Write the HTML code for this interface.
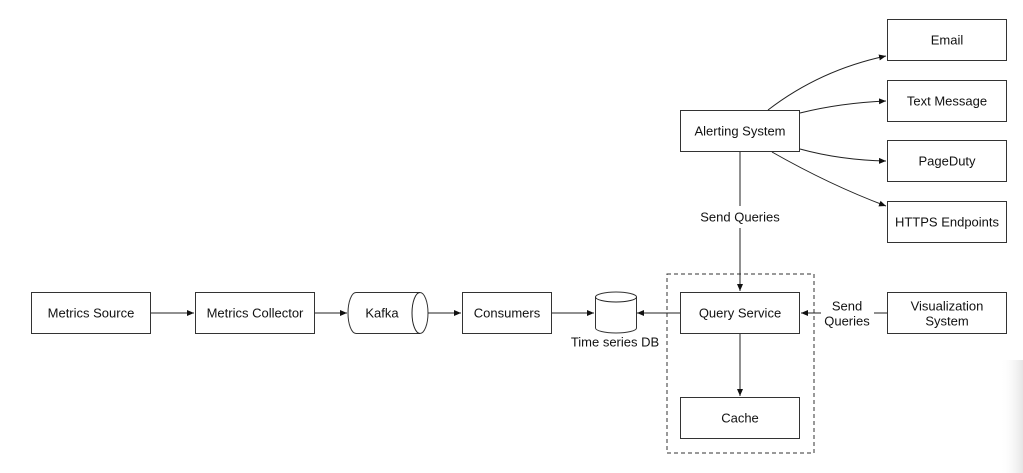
<!DOCTYPE html>
<html><head><meta charset="utf-8"><style>
html,body{margin:0;padding:0;background:#fff;}
svg{display:block;font-family:"Liberation Sans",Arial,sans-serif;}
text{font-size:13px;fill:#111;text-anchor:middle;dominant-baseline:central;}
.b{fill:#fff;stroke:#333;stroke-width:1;}
.l{fill:none;stroke:#222;stroke-width:1;}
</style></head><body>
<svg width="1023" height="473" viewBox="0 0 1023 473">
<defs><marker id="a" markerWidth="8" markerHeight="8" refX="7" refY="4" orient="auto" markerUnits="userSpaceOnUse"><path d="M0,1 L7,4 L0,7 Z" fill="#111"/></marker></defs>
<!-- right edge shading -->
<defs><linearGradient id="g" x1="0" x2="1"><stop offset="0" stop-color="#fff" stop-opacity="0"/><stop offset="1" stop-color="#e6e6e6"/></linearGradient></defs>
<rect x="1000" y="360" width="23" height="113" fill="url(#g)"/>

<rect class="b" x="31.5" y="292.5" width="119" height="41"/><text x="91" y="313">Metrics Source</text>
<rect class="b" x="195.5" y="292.5" width="119" height="41"/><text x="255" y="313">Metrics Collector</text>
<path class="b" d="M356,292.5 H420 A8,20.5 0 0 1 420,333.5 H356 A8,20.5 0 0 1 356,292.5 Z"/>
<path class="l" d="M420,292.5 A8,20.5 0 0 0 420,333.5"/>
<text x="382" y="313">Kafka</text>
<rect class="b" x="462.5" y="292.5" width="89" height="41"/><text x="507" y="313">Consumers</text>
<path class="b" d="M595.5,297 V328 A20.5,5 0 0 0 636.5,328 V297 A20.5,5 0 0 0 595.5,297 Z"/>
<path class="l" d="M595.5,297 A20.5,5 0 0 0 636.5,297"/>
<text x="615" y="342">Time series DB</text>

<rect x="667" y="274" width="147" height="179" fill="none" stroke="#333" stroke-dasharray="4,3"/>
<rect class="b" x="680.5" y="292.5" width="119" height="41"/><text x="740" y="313">Query Service</text>
<rect class="b" x="680.5" y="397.5" width="119" height="41"/><text x="740" y="418">Cache</text>
<rect class="b" x="887.5" y="292.5" width="119" height="41"/><text x="947" y="306">Visualization</text><text x="947" y="321">System</text>

<rect class="b" x="680.5" y="110.5" width="119" height="41"/><text x="740" y="131">Alerting System</text>
<rect class="b" x="887.5" y="19.5" width="119" height="41"/><text x="947" y="40">Email</text>
<rect class="b" x="887.5" y="80.5" width="119" height="41"/><text x="947" y="101">Text Message</text>
<rect class="b" x="887.5" y="140.5" width="119" height="41"/><text x="947" y="161">PageDuty</text>
<rect class="b" x="887.5" y="201.5" width="119" height="41"/><text x="947" y="222">HTTPS Endpoints</text>

<line class="l" x1="151" y1="313" x2="194" y2="313" marker-end="url(#a)"/>
<line class="l" x1="315" y1="313" x2="347" y2="313" marker-end="url(#a)"/>
<line class="l" x1="428" y1="313" x2="461" y2="313" marker-end="url(#a)"/>
<line class="l" x1="552" y1="313" x2="594" y2="313" marker-end="url(#a)"/>
<line class="l" x1="680" y1="313" x2="637" y2="313" marker-end="url(#a)"/>
<line class="l" x1="740" y1="334" x2="740" y2="396" marker-end="url(#a)"/>
<line class="l" x1="740" y1="152" x2="740" y2="206"/>
<text x="740" y="217">Send Queries</text>
<line class="l" x1="740" y1="228" x2="740" y2="291" marker-end="url(#a)"/>
<line class="l" x1="887" y1="313" x2="874" y2="313"/>
<text x="847" y="306">Send</text><text x="847" y="321">Queries</text>
<line class="l" x1="821" y1="313" x2="801" y2="313" marker-end="url(#a)"/>

<path class="l" d="M768,110 Q820,70 886,56" marker-end="url(#a)"/>
<path class="l" d="M800,113 Q840,103 886,101" marker-end="url(#a)"/>
<path class="l" d="M800,149 Q840,160 886,161" marker-end="url(#a)"/>
<path class="l" d="M772,152 Q830,185 886,206" marker-end="url(#a)"/>
</svg>
</body></html>
